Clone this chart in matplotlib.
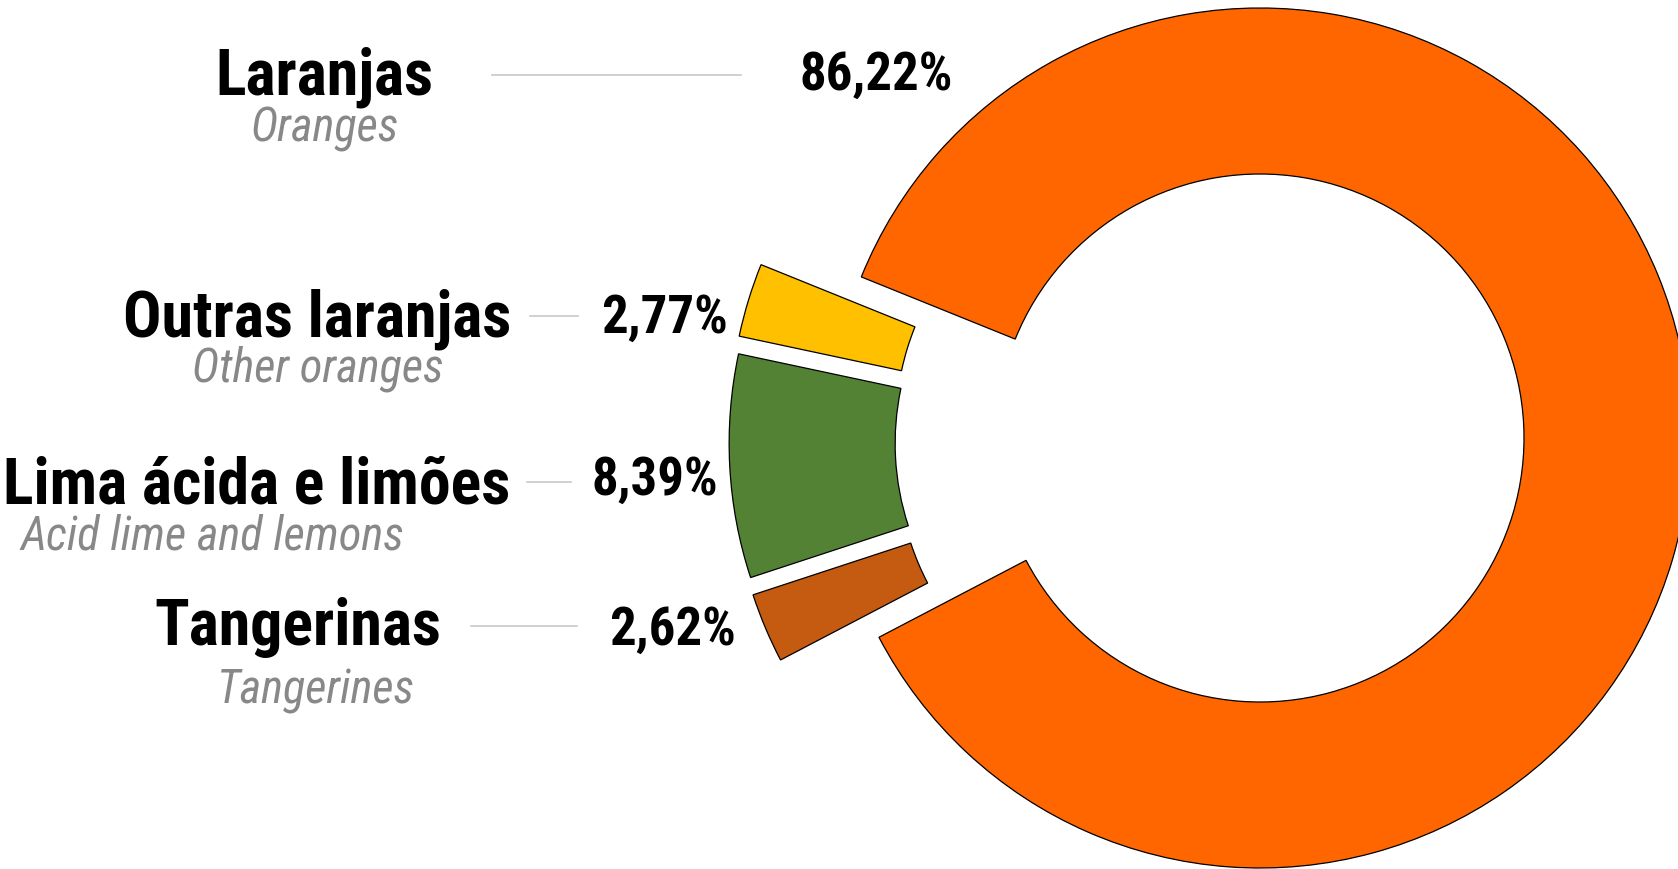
import matplotlib
matplotlib.use("Agg")
import matplotlib.pyplot as plt
from matplotlib import font_manager
import numpy as np

# ---- data ----
categories_pt = ["Outras laranjas", "Lima ácida e limões", "Tangerinas", "Laranjas"]
categories_en = ["Other oranges", "Acid lime and lemons", "Tangerines", "Oranges"]
values = [2.77, 8.39, 2.62, 86.22]
colors = ["#FFC000", "#548235", "#C55A11", "#FF6600"]
exploded = [True, True, True, False]

# ---- layout (pixel coordinates, y from top) ----
W, H = 1678, 869
center_px = (1260, 438)
outer_r = 430
inner_r = 264
start_angle = 158
shift_px = 101

title_pos = [(511, 336), (510, 503), (441, 645), (433, 95)]
sub_pos = [(318, 382), (212, 550), (316, 703), (325, 142)]
line_pos = [(530, 578, 316), (527, 571, 482), (471, 577, 626), (492, 741, 75)]
pct_pos = [(601, 333), (592, 495), (609, 645), (799, 90)]

avail = {f.name for f in font_manager.fontManager.ttflist}
narrow = "Liberation Sans"
for cand in ["Arial Narrow", "Liberation Sans Narrow", "Nimbus Sans Narrow",
             "Roboto Condensed", "Archivo Narrow"]:
    if cand in avail:
        narrow = cand
        break
fam = [narrow, "DejaVu Sans"]

fig = plt.figure(figsize=(W / 100, H / 100), dpi=100)
ax = fig.add_axes([0, 0, 1, 1])

cy = H - center_px[1]
wedges, _ = ax.pie(values, colors=colors, startangle=start_angle, counterclock=True,
                   radius=outer_r, center=(center_px[0], cy),
                   wedgeprops=dict(width=outer_r - inner_r, edgecolor="black", linewidth=0.9))

# explode small slices outward (direction pulled toward the group's middle)
cum = start_angle
mids = []
for v in values:
    span = v / sum(values) * 360
    mids.append(cum + span / 2)
    cum += span
group_mid = mids[1]
for w, m, e in zip(wedges, mids, exploded):
    if e:
        phi = np.deg2rad(group_mid + 0.5 * (m - group_mid))
        w.set_center((center_px[0] + shift_px * np.cos(phi), cy + shift_px * np.sin(phi)))

ax.set_xlim(0, W)
ax.set_ylim(0, H)
ax.set_aspect("equal")
ax.axis("off")

for i in range(len(values)):
    tx, ty = title_pos[i]
    ax.text(tx, H - ty, categories_pt[i], ha="right", va="baseline",
            fontsize=46, fontweight="bold", family=fam, color="black")
    sx, sy = sub_pos[i]
    ax.text(sx, H - sy, categories_en[i], ha="center", va="baseline",
            fontsize=33.5, style="italic", family=fam, color="#888888")
    x0, x1, ly = line_pos[i]
    ax.plot([x0, x1], [H - ly, H - ly], color="#c8c8c8", linewidth=1.2)
    px, py = pct_pos[i]
    label = f"{values[i]:.2f}".replace(".", ",") + "%"
    ax.text(px, H - py, label, ha="left", va="baseline",
            fontsize=38, fontweight="bold", family=fam, color="black")

fig.savefig("out.png", dpi=100)
